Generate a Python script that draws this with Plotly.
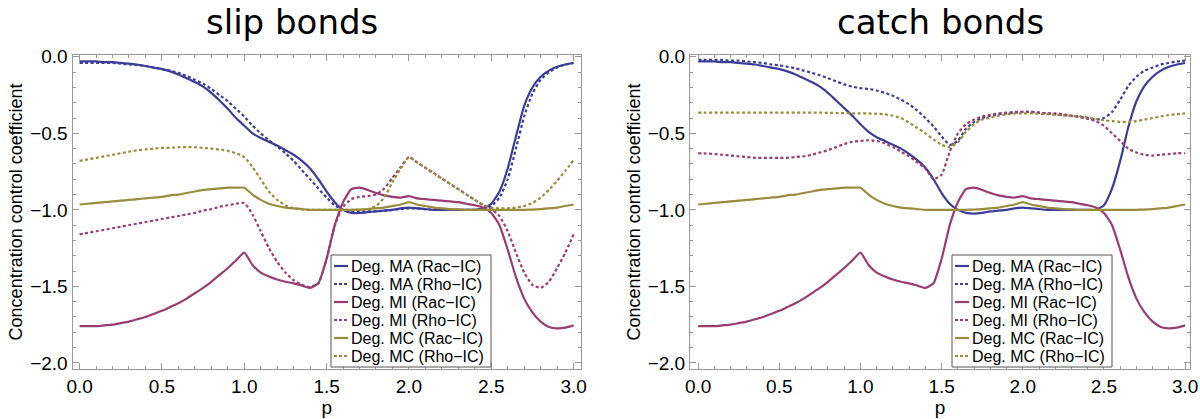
import plotly.graph_objects as go

p = [round(i * 0.05, 2) for i in range(61)]

# ---- slip bonds ----
slip_ma_rac = [-0.03, -0.03, -0.03, -0.035, -0.035, -0.04, -0.045, -0.05, -0.06, -0.07,
               -0.08, -0.095, -0.115, -0.14, -0.165, -0.195, -0.235, -0.285, -0.34, -0.40,
               -0.45, -0.50, -0.53, -0.555, -0.58, -0.61, -0.64, -0.68, -0.73, -0.80,
               -0.88, -0.95, -1.0, -1.02, -1.02, -1.015, -1.01, -1.005, -1.0, -0.99,
               -0.985, -0.99, -0.995, -1.0, -1.0, -1.0, -1.0, -1.0, -1.0, -0.99,
               -0.96, -0.88, -0.73, -0.52, -0.32, -0.20, -0.13, -0.09, -0.065, -0.05,
               -0.04]
slip_ma_rho = [-0.04, -0.04, -0.04, -0.04, -0.04, -0.045, -0.05, -0.055, -0.06, -0.07,
               -0.08, -0.09, -0.105, -0.125, -0.15, -0.175, -0.21, -0.25, -0.29, -0.34,
               -0.39, -0.45, -0.50, -0.545, -0.585, -0.63, -0.68, -0.74, -0.80, -0.86,
               -0.92, -0.97, -1.0, -1.01, -1.01, -1.01, -1.01, -1.005, -1.0, -0.995,
               -0.99, -0.99, -0.995, -1.0, -1.0, -1.0, -1.0, -1.0, -1.0, -0.995,
               -0.975, -0.92, -0.80, -0.60, -0.39, -0.24, -0.15, -0.10, -0.07, -0.05,
               -0.04]
slip_mi_rac = [-1.76, -1.76, -1.76, -1.755, -1.75, -1.74, -1.73, -1.715, -1.70, -1.68,
               -1.66, -1.635, -1.61, -1.58, -1.545, -1.51, -1.47, -1.425, -1.38, -1.33,
               -1.28, -1.36, -1.41, -1.435, -1.455, -1.47, -1.48, -1.495, -1.51, -1.48,
               -1.32, -1.10, -0.95, -0.865, -0.855, -0.87, -0.89, -0.905, -0.915, -0.92,
               -0.91, -0.925, -0.93, -0.935, -0.94, -0.945, -0.95, -0.96, -0.97, -0.985,
               -1.02, -1.10, -1.26, -1.44, -1.58, -1.67, -1.73, -1.765, -1.775, -1.77,
               -1.755]
slip_mi_rho = [-1.16, -1.15, -1.14, -1.13, -1.12, -1.11, -1.10, -1.09, -1.08, -1.07,
               -1.06, -1.05, -1.04, -1.03, -1.02, -1.005, -0.995, -0.98, -0.97, -0.96,
               -0.955, -1.03, -1.14, -1.25, -1.34, -1.41, -1.46, -1.49, -1.505, -1.48,
               -1.32, -1.10, -0.98, -0.93, -0.915, -0.91, -0.90, -0.86, -0.79, -0.72,
               -0.655, -0.69, -0.725, -0.76, -0.795, -0.83, -0.865, -0.90, -0.935, -0.97,
               -0.995, -1.04, -1.14, -1.28, -1.41, -1.49, -1.51, -1.47, -1.38, -1.28,
               -1.16]
slip_mc_rac = [-0.965, -0.96, -0.955, -0.95, -0.945, -0.94, -0.935, -0.93, -0.925, -0.92,
               -0.915, -0.905, -0.90, -0.89, -0.88, -0.87, -0.865, -0.86, -0.855, -0.855,
               -0.855, -0.90, -0.935, -0.96, -0.975, -0.985, -0.99, -0.995, -1.0, -1.0,
               -1.0, -1.0, -1.0, -1.0, -0.998, -0.995, -0.99, -0.985, -0.975, -0.965,
               -0.95, -0.965, -0.975, -0.985, -0.99, -0.995, -0.997, -1.0, -1.0, -1.0,
               -1.0, -1.0, -1.0, -1.0, -1.0, -0.998, -0.995, -0.99, -0.985, -0.975,
               -0.965]
slip_mc_rho = [-0.68, -0.67, -0.66, -0.65, -0.64, -0.63, -0.62, -0.61, -0.605, -0.60,
               -0.595, -0.595, -0.59, -0.59, -0.59, -0.595, -0.60, -0.605, -0.615, -0.63,
               -0.655, -0.72, -0.80, -0.88, -0.935, -0.97, -0.99, -0.997, -1.0, -1.0,
               -1.0, -1.0, -1.0, -1.0, -1.0, -0.995, -0.975, -0.92, -0.82, -0.73,
               -0.655, -0.69, -0.725, -0.76, -0.795, -0.83, -0.865, -0.90, -0.935, -0.965,
               -0.985, -0.99, -0.99, -0.985, -0.975, -0.955, -0.92, -0.87, -0.81, -0.745,
               -0.675]

# ---- catch bonds ----
catch_ma_rac = [-0.03, -0.03, -0.03, -0.035, -0.035, -0.04, -0.045, -0.05, -0.06, -0.07,
                -0.08, -0.095, -0.115, -0.14, -0.165, -0.195, -0.235, -0.285, -0.335, -0.385,
                -0.44, -0.49, -0.525, -0.55, -0.575, -0.60, -0.635, -0.675, -0.725, -0.80,
                -0.89, -0.96, -1.0, -1.02, -1.025, -1.02, -1.01, -1.005, -1.0, -0.99,
                -0.985, -0.99, -0.995, -1.0, -1.0, -1.0, -1.0, -1.0, -1.0, -1.0,
                -0.97, -0.86, -0.68, -0.46, -0.29, -0.19, -0.13, -0.09, -0.065, -0.05,
                -0.04]
catch_ma_rho = [-0.02, -0.02, -0.02, -0.02, -0.025, -0.025, -0.03, -0.035, -0.04, -0.05,
                -0.055, -0.065, -0.075, -0.09, -0.105, -0.12, -0.14, -0.16, -0.18, -0.195,
                -0.205, -0.21, -0.22, -0.235, -0.255, -0.28, -0.31, -0.35, -0.40, -0.455,
                -0.52, -0.575, -0.55, -0.47, -0.425, -0.40, -0.385, -0.375, -0.37, -0.365,
                -0.36, -0.36, -0.365, -0.37, -0.375, -0.38, -0.385, -0.39, -0.40, -0.41,
                -0.40, -0.36, -0.28, -0.19, -0.13, -0.09, -0.07, -0.05, -0.04, -0.03,
                -0.025]
catch_mi_rac = list(slip_mi_rac)
catch_mi_rho = [-0.63, -0.632, -0.635, -0.64, -0.645, -0.65, -0.655, -0.66, -0.66, -0.66,
                -0.66, -0.66, -0.655, -0.65, -0.64, -0.625, -0.61, -0.59, -0.57, -0.555,
                -0.55, -0.545, -0.55, -0.565, -0.59, -0.62, -0.65, -0.69, -0.73, -0.80,
                -0.77, -0.62, -0.50, -0.44, -0.41, -0.39, -0.38, -0.37, -0.365, -0.36,
                -0.36, -0.36, -0.365, -0.37, -0.37, -0.375, -0.385, -0.395, -0.405, -0.42,
                -0.45, -0.50, -0.55, -0.60, -0.625, -0.64, -0.645, -0.64, -0.635, -0.63,
                -0.63]
catch_mc_rac = list(slip_mc_rac)
catch_mc_rho = [-0.365, -0.365, -0.365, -0.365, -0.365, -0.365, -0.365, -0.365, -0.365, -0.365,
                -0.365, -0.365, -0.365, -0.365, -0.365, -0.365, -0.366, -0.367, -0.368, -0.369,
                -0.37, -0.37, -0.372, -0.375, -0.385, -0.40, -0.43, -0.465, -0.50, -0.54,
                -0.575, -0.59, -0.56, -0.49, -0.44, -0.41, -0.395, -0.385, -0.375, -0.37,
                -0.37, -0.37, -0.372, -0.375, -0.378, -0.382, -0.386, -0.39, -0.396, -0.405,
                -0.415, -0.42, -0.425, -0.425, -0.42, -0.41, -0.40, -0.39, -0.38, -0.375,
                -0.37]

names = ["Deg. MA (Rac\u2212IC)", "Deg. MA (Rho\u2212IC)",
         "Deg. MI (Rac\u2212IC)", "Deg. MI (Rho\u2212IC)",
         "Deg. MC (Rac\u2212IC)", "Deg. MC (Rho\u2212IC)"]
colors = ["#3d3d99", "#3d3d99", "#993d71", "#993d71", "#998c3d", "#998c3d"]
dashes = ["solid", "3px,2.5px"] * 3

slip = [slip_ma_rac, slip_ma_rho, slip_mi_rac, slip_mi_rho, slip_mc_rac, slip_mc_rho]
catch = [catch_ma_rac, catch_ma_rho, catch_mi_rac, catch_mi_rho, catch_mc_rac, catch_mc_rho]

W, H = 1200, 419
FONT = "Liberation Sans, Arial, sans-serif"

fig = go.Figure()
for k in range(6):
    fig.add_trace(go.Scatter(x=p, y=slip[k], mode="lines", name=names[k], showlegend=False,
                             line=dict(color=colors[k], width=2.2, dash=dashes[k],
                                       shape="spline", smoothing=0.5),
                             xaxis="x", yaxis="y"))
for k in range(6):
    fig.add_trace(go.Scatter(x=p, y=catch[k], mode="lines", name=names[k], showlegend=False,
                             line=dict(color=colors[k], width=2.2, dash=dashes[k],
                                       shape="spline", smoothing=0.5),
                             xaxis="x2", yaxis="y2"))

tickfont = dict(family=FONT, size=19, color="black")
frame = "#9a9a9a"


def xax(domain, rng, anchor):
    return dict(domain=domain, range=rng, anchor=anchor, showgrid=False, zeroline=False,
                automargin=False, ticklabeloverflow="allow",
                showline=True, mirror="allticks", linecolor=frame, linewidth=1,
                ticks="inside", ticklen=6, tickcolor=frame, tickvals=[0, 0.5, 1, 1.5, 2, 2.5, 3],
                tickformat=".1f", tickfont=tickfont,
                minor=dict(ticks="inside", ticklen=3, tickcolor=frame, dtick=0.1, showgrid=False),
                title=dict(text="p", font=dict(family=FONT, size=19, color="black"), standoff=2))


def yax(domain, anchor):
    return dict(domain=domain, range=[-2.04, 0.012], anchor=anchor, showgrid=False, zeroline=False,
                automargin=False, ticklabeloverflow="allow",
                showline=True, mirror="allticks", linecolor=frame, linewidth=1,
                ticks="inside", ticklen=6, tickcolor=frame, tickvals=[0, -0.5, -1, -1.5, -2],
                tickformat=".1f", tickfont=tickfont,
                minor=dict(ticks="inside", ticklen=3, tickcolor=frame, dtick=0.1, showgrid=False),
                title=dict(text="Concentration control coefficient",
                           font=dict(family=FONT, size=18, color="black"), standoff=2))


# custom legend boxes (layout decoration, in paper pixels)
shapes = []
annotations = []
ROW = 18.0


def add_legend(left_px, top_px, width_px):
    height_px = 6 * ROW + 4
    shapes.append(dict(type="rect", xref="paper", yref="paper",
                       x0=left_px / W, x1=(left_px + width_px) / W,
                       y0=1 - (top_px + height_px) / H, y1=1 - top_px / H,
                       line=dict(color="#555555", width=1), fillcolor="white", layer="above"))
    for k in range(6):
        yc = top_px + 2 + ROW / 2 + ROW * k
        shapes.append(dict(type="line", xref="paper", yref="paper",
                           x0=(left_px + 3) / W, x1=(left_px + 17) / W,
                           y0=1 - yc / H, y1=1 - yc / H,
                           line=dict(color=colors[k], width=2.2,
                                     dash="solid" if dashes[k] == "solid" else "3px,2px"),
                           layer="above"))
        annotations.append(dict(text=names[k], xref="paper", yref="paper",
                                x=(left_px + 18) / W, y=1 - yc / H, xanchor="left", yanchor="middle",
                                showarrow=False, font=dict(family=FONT, size=16, color="black")))


add_legend(331, 255, 160)
add_legend(952, 255, 160)

annotations += [
    dict(text="slip bonds", x=292 / W, y=1 - 22 / H, xref="paper", yref="paper",
         showarrow=False, xanchor="center", yanchor="middle",
         font=dict(family="DejaVu Sans, sans-serif", size=34, color="black")),
    dict(text="catch bonds", x=940 / W, y=1 - 22 / H, xref="paper", yref="paper",
         showarrow=False, xanchor="center", yanchor="middle",
         font=dict(family="DejaVu Sans, sans-serif", size=34, color="black")),
]

fig.update_layout(
    width=W, height=H,
    margin=dict(l=0, r=0, t=0, b=0, autoexpand=False),
    paper_bgcolor="white", plot_bgcolor="white",
    showlegend=False,
    xaxis=xax([72.5 / W, 581 / W], [-0.043, 3.045], "y"),
    yaxis=yax([1 - 369 / H, 1 - 55 / H], "x"),
    xaxis2=xax([690 / W, 1190 / W], [-0.05, 3.03], "y2"),
    yaxis2=yax([1 - 369 / H, 1 - 55 / H], "x2"),
    shapes=shapes,
    annotations=annotations,
)

fig.write_html("out.html", config={"displayModeBar": False},
               post_script="document.body.style.margin='0';document.body.style.overflow='hidden';")
